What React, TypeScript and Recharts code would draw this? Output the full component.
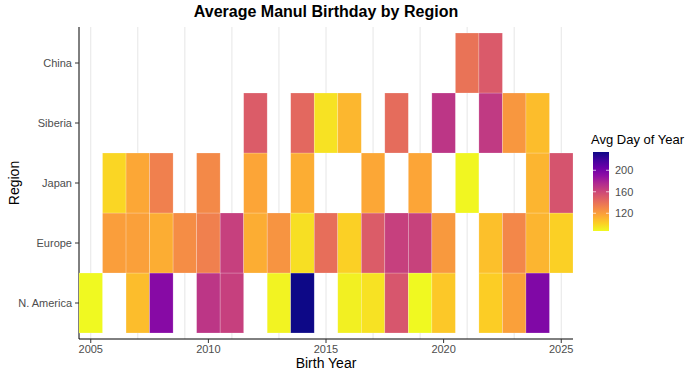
import React from 'react';
import { ScatterChart, Scatter, XAxis, YAxis, CartesianGrid } from 'recharts';

// birth years on the x axis
const years = [
  2005, 2006, 2007, 2008, 2009, 2010, 2011, 2012, 2013, 2014, 2015,
  2016, 2017, 2018, 2019, 2020, 2021, 2022, 2023, 2024, 2025,
];
const yearTicks = [2005, 2010, 2015, 2020, 2025];

// bottom to top
const regions = ['N. America', 'Europe', 'Japan', 'Siberia', 'China'];

// avg day of year per birth year (null = no manuls that year)
const nAmerica = [87, null, 108, 193, null, 169, 164, null, 89, 234, null, 90, 95, 153, 87, 104, null, 102, 119, 196, null];
const europe = [null, 120, 119, 114, 127, 133, 164, 114, 124, 96, 141, 101, 150, 164, 163, 122, null, 107, 130, 111, 101];
const japan = [null, 99, 116, 133, null, 129, null, 117, null, 114, null, null, 116, null, 117, null, 88, null, null, 111, 154];
const siberia = [null, null, null, null, null, null, null, 150, null, 144, 95, 110, null, 142, null, 169, null, 167, 123, 108, null];
const china = [null, null, null, null, null, null, null, null, null, null, null, null, null, null, null, null, 139, 151, null, null, null];

const legendTicks = [120, 160, 200];

const rows = [nAmerica, europe, japan, siberia, china];

const cells = rows.flatMap((vals, ri) =>
  vals
    .map((v, yi) => ({ x: years[yi], y: ri + 1, v }))
    .filter((d) => d.v !== null)
) as { x: number; y: number; v: number }[];

const allVals = cells.map((d) => d.v);
const vMin = Math.min(...allVals);
const vMax = Math.max(...allVals);

// plasma palette, dark end first
const PLASMA = [
  '#0D0887', '#41049D', '#6A00A8', '#8F0DA4', '#B12A90', '#CC4778',
  '#E16462', '#F2844B', '#FCA636', '#FCCE25', '#F0F921',
];

const hexToRgb = (h: string) => [1, 3, 5].map((i) => parseInt(h.slice(i, i + 2), 16));

const plasma = (t: number) => {
  const c = Math.max(0, Math.min(1, t)) * (PLASMA.length - 1);
  const i = Math.min(Math.floor(c), PLASMA.length - 2);
  const f = c - i;
  const a = hexToRgb(PLASMA[i]);
  const b = hexToRgb(PLASMA[i + 1]);
  const rgb = a.map((av, k) => Math.round(av + (b[k] - av) * f));
  return `rgb(${rgb.join(',')})`;
};

// high values are dark, low values yellow
const colorFor = (v: number) => plasma(1 - (v - vMin) / (vMax - vMin));

const W = 700;
const H = 376;
const margin = { top: 27, right: 127, bottom: 7, left: 4 };
const yAxisW = 75;
const xAxisH = 30;
const xDomain = [2004.5, 2025.5];
const yDomain = [0.4, 5.6];
const plotW = W - margin.left - margin.right - yAxisW;
const plotH = H - margin.top - margin.bottom - xAxisH;
const cellW = plotW / (xDomain[1] - xDomain[0]);
const cellH = plotH / (yDomain[1] - yDomain[0]);

const FONT = '"Liberation Sans", Arial, Helvetica, sans-serif';
const AXIS_TEXT = '#4D4D4D';

const Tile = (props: any) => {
  const { cx, cy, payload } = props;
  return (
    <rect
      x={cx - cellW / 2}
      y={cy - cellH / 2}
      width={cellW}
      height={cellH}
      fill={colorFor(payload.v)}
      stroke="rgba(255,255,255,0.35)"
      strokeWidth={0.6}
    />
  );
};

const RegionTick = (props: any) => {
  const { x, y, payload } = props;
  return (
    <text x={x} y={y} dy="0.35em" textAnchor="end" fontSize={11} fill={AXIS_TEXT} fontFamily={FONT}>
      {regions[payload.value - 1]}
    </text>
  );
};

const ColorBar = () => {
  const barX = 8;
  const barW = 16;
  const barTop = 0;
  const barH = 79;
  const stops = PLASMA.map((c, i) => ({ off: i / (PLASMA.length - 1), c }));
  return (
    <svg width={90} height={90} style={{ position: 'absolute', left: 585, top: 152 }}>
      <defs>
        <linearGradient id="plasmaGrad" x1="0" y1="0" x2="0" y2="1">
          {stops.map((s) => (
            <stop key={s.off} offset={s.off} stopColor={s.c} />
          ))}
        </linearGradient>
      </defs>
      <rect x={barX} y={barTop} width={barW} height={barH} fill="url(#plasmaGrad)" />
      {legendTicks.map((t) => {
        const y = barTop + ((vMax - t) / (vMax - vMin)) * barH;
        return (
          <g key={t}>
            <line x1={barX} x2={barX + 3} y1={y} y2={y} stroke="#fff" strokeOpacity={0.7} />
            <line x1={barX + barW - 3} x2={barX + barW} y1={y} y2={y} stroke="#fff" strokeOpacity={0.7} />
            <text x={barX + barW + 6} y={y} dy="0.35em" fontSize={11} fill={AXIS_TEXT} fontFamily={FONT}>
              {t}
            </text>
          </g>
        );
      })}
    </svg>
  );
};

export default function App() {
  return (
    <div style={{ position: 'absolute', left: 0, top: 0, width: W, height: H, background: '#fff', fontFamily: FONT }}>
      <div style={{ position: 'absolute', left: 79, width: plotW, top: 3, textAlign: 'center', fontSize: 16, fontWeight: 'bold', color: '#000' }}>
        Average Manul Birthday by Region
      </div>

      <ScatterChart width={W} height={H} margin={margin}>
        <CartesianGrid horizontal={false} verticalValues={years} stroke="#E6E6E6" strokeWidth={1} />
        <XAxis
          type="number"
          dataKey="x"
          domain={xDomain}
          ticks={yearTicks}
          allowDataOverflow
          height={xAxisH}
          tickSize={4}
          tickMargin={2}
          axisLine={{ stroke: '#000', strokeWidth: 1 }}
          tickLine={{ stroke: '#333' }}
          tick={{ fill: AXIS_TEXT, fontSize: 11, fontFamily: FONT }}
        />
        <YAxis
          type="number"
          dataKey="y"
          domain={yDomain}
          ticks={[1, 2, 3, 4, 5]}
          allowDataOverflow
          width={yAxisW}
          tickSize={4}
          tickMargin={3}
          axisLine={{ stroke: '#000', strokeWidth: 1 }}
          tickLine={{ stroke: '#333' }}
          tick={RegionTick}
        />
        <Scatter data={cells} shape={Tile} isAnimationActive={false} />
      </ScatterChart>

      <div style={{ position: 'absolute', left: 79, width: plotW, top: 356, textAlign: 'center', fontSize: 14, lineHeight: '14px', color: '#000' }}>
        Birth Year
      </div>
      <div
        style={{
          position: 'absolute',
          left: 14,
          top: 183,
          fontSize: 14,
          lineHeight: '14px',
          color: '#000',
          transform: 'translate(-50%, -50%) rotate(-90deg)',
          whiteSpace: 'nowrap',
        }}
      >
        Region
      </div>

      <div style={{ position: 'absolute', left: 591, top: 132, fontSize: 13, color: '#000', whiteSpace: 'nowrap' }}>
        Avg Day of Year
      </div>
      <ColorBar />
    </div>
  );
}
